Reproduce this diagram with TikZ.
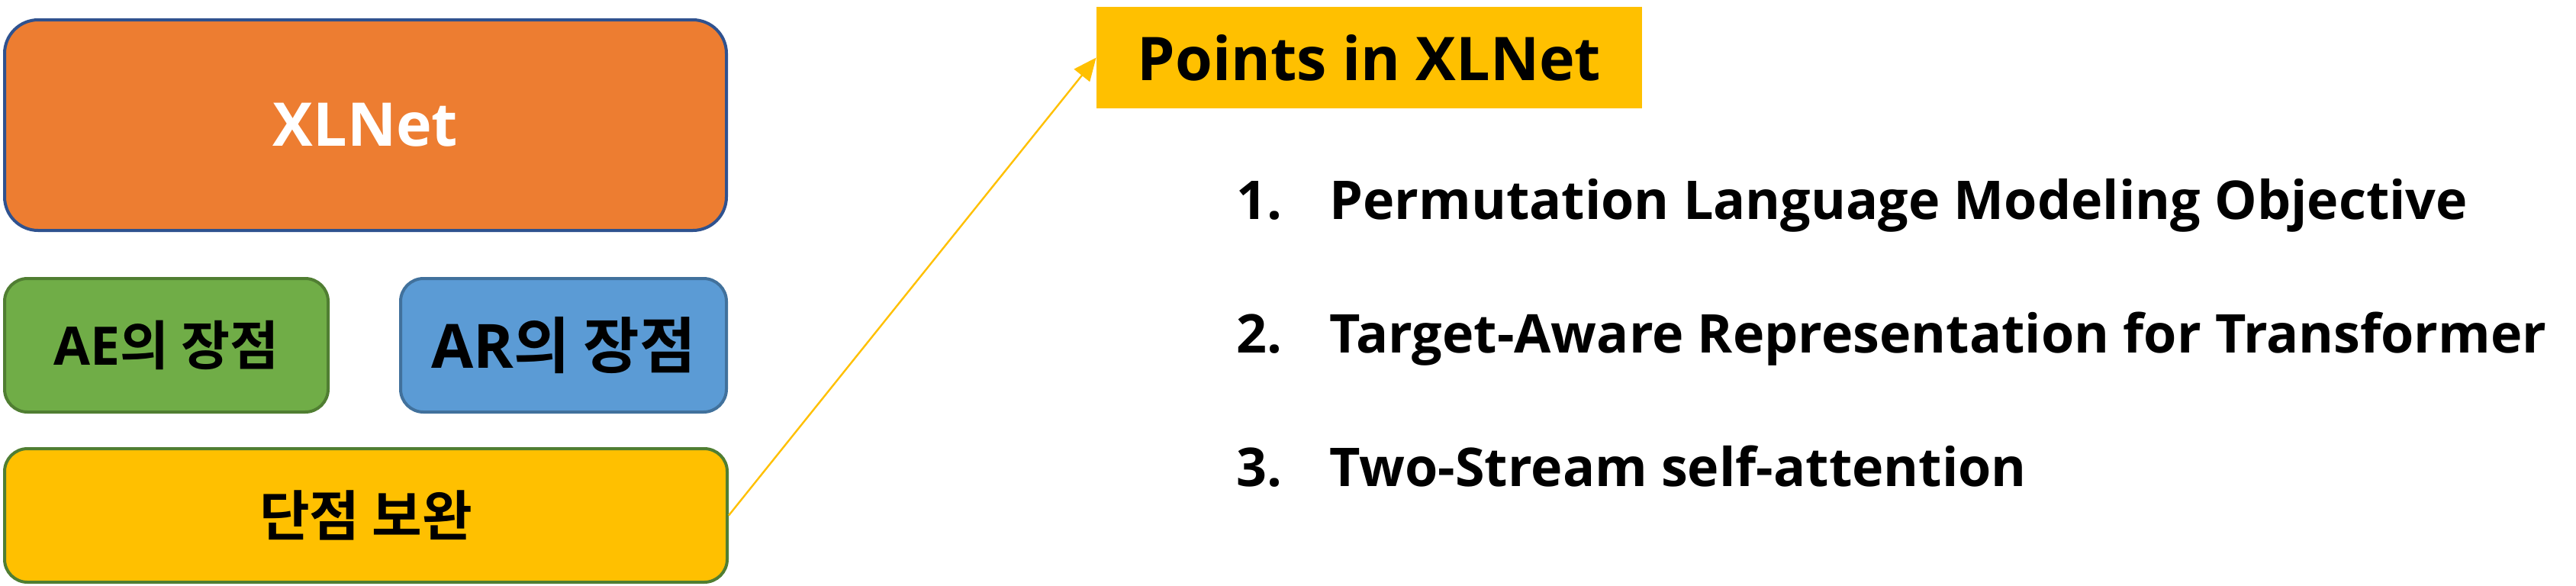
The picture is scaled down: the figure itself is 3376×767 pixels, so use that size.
\documentclass[tikz,border=0pt]{standalone}
\usepackage{fontspec}
\setmainfont{Open Sans}
\newfontfamily\krfont{Noto Sans CJK KR}[BoldFont={Noto Sans CJK KR Bold}]
\usetikzlibrary{arrows.meta,positioning}

\definecolor{xlorange}{HTML}{ED7D31}
\definecolor{xlblue}{HTML}{2F528F}
\definecolor{aegreen}{HTML}{70AD47}
\definecolor{aeborder}{HTML}{507E32}
\definecolor{arblue}{HTML}{5B9BD5}
\definecolor{arborder}{HTML}{41719C}
\definecolor{gold}{HTML}{FFC000}

\begin{document}
\begin{tikzpicture}[
  x=0.5pt,y=-0.5pt,
  block/.style={draw,line width=2pt,rounded corners=15pt,align=center,inner sep=0pt,
    minimum height=87.5pt,font=\bfseries\fontsize{34.8}{40}\selectfont},
  point/.style={anchor=base west,inner sep=0pt,font=\bfseries\fontsize{35}{42}\selectfont}
]
  \useasboundingbox (0,0) rectangle (3376,767);

  \node[block,fill=xlorange,draw=xlblue,text=white,rounded corners=22pt,
    minimum width=473pt,minimum height=138pt,font=\bfseries\fontsize{39.5}{48}\selectfont]
    (xlnet) at (479,164) {XLNet};
  \node[block,fill=aegreen,draw=aeborder,minimum width=212pt,
    below right=29.5pt and 0pt of xlnet.south west] (ae) {AE{\krfont 의 장점}};
  \node[block,fill=arblue,draw=arborder,minimum width=213.5pt,font=\bfseries\fontsize{40}{48}\selectfont,
    below left=29.5pt and 0pt of xlnet.south east] (ar) {AR{\krfont 의 장점}};
  \node[block,fill=gold,draw=aeborder,minimum width=473.5pt,font=\bfseries\fontsize{35.7}{42}\selectfont,
    below right=22pt and 0pt of ae.south west] (bowan) {\krfont 단점 보완};

  \node[fill=gold,minimum width=357.5pt,minimum height=66.5pt,inner sep=0pt,
    font=\bfseries\fontsize{39.5}{48}\selectfont] (points) at (1794.5,75.5) {Points in XLNet};

  \node[point] (item1) at (1620,287) {\makebox[61pt][l]{1.}Permutation Language Modeling Objective};
  \node[point] (item2) at (1620,462) {\makebox[61pt][l]{2.}Target-Aware Representation for Transformer};
  \node[point] (item3) at (1620,637) {\makebox[61pt][l]{3.}Two-Stream self-attention};

  \draw[gold,line width=1.2pt,-{Triangle[length=15pt,width=13pt]}] (bowan.east) -- (points.west);
\end{tikzpicture}
\end{document}
